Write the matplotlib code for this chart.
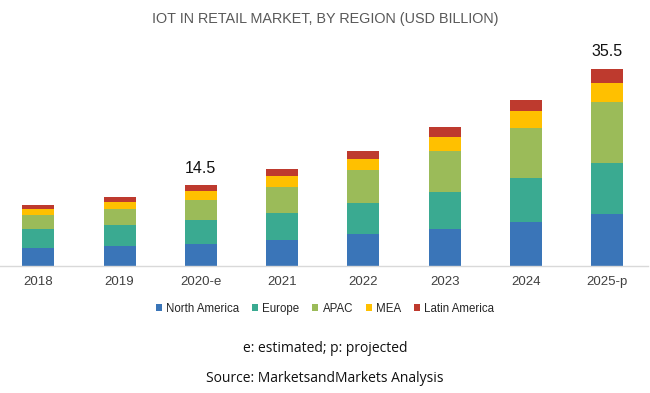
import matplotlib
matplotlib.use('Agg')
import matplotlib.pyplot as plt
import numpy as np

years = ['2018', '2019', '2020-e', '2021', '2022', '2023', '2024', '2025-p']
north_america = [3.30, 3.65, 4.00, 4.73, 5.76, 6.60, 7.86, 9.42]
europe = [3.35, 3.72, 4.30, 4.86, 5.57, 6.71, 7.97, 9.11]
apac = [2.58, 2.93, 3.60, 4.67, 5.94, 7.32, 8.99, 10.97]
mea = [1.02, 1.20, 1.55, 1.87, 1.92, 2.52, 3.06, 3.41]
latin_america = [0.78, 0.96, 1.05, 1.26, 1.57, 1.92, 2.05, 2.59]
total_labels = {'2020-e': '14.5', '2025-p': '35.5'}

series = [
    ('North America', north_america, '#3A75B8'),
    ('Europe', europe, '#3AAA91'),
    ('APAC', apac, '#9BBB59'),
    ('MEA', mea, '#FFC000'),
    ('Latin America', latin_america, '#BE3A2E'),
]

fig = plt.figure(figsize=(6.5, 3.93), dpi=100)
ax = fig.add_axes([0.0, 0.3232, 0.997, 0.5659])

x = np.arange(len(years))
bottom = np.zeros(len(years))
for name, vals, color in series:
    ax.bar(x, vals, width=0.394, bottom=bottom, color=color, label=name)
    bottom += np.array(vals)

for i, yr in enumerate(years):
    if yr in total_labels:
        ax.annotate(total_labels[yr], (x[i], bottom[i]), xytext=(0, 7),
                    textcoords='offset points', ha='center', va='bottom',
                    fontsize=11.5, color='#111111', family='Liberation Sans')

ax.set_xlim(-0.47, 7.5)
ax.set_ylim(0, 40)
ax.set_yticks([])
ax.set_xticks(x)
ax.set_xticklabels(years, fontsize=9.5, color='#404040', family='Liberation Sans')
ax.tick_params(axis='x', length=0, pad=7)
for s in ['top', 'right', 'left']:
    ax.spines[s].set_visible(False)
ax.spines['bottom'].set_color('#D9D9D9')
ax.spines['bottom'].set_linewidth(1.0)

fig.text(0.5, 0.951, 'IOT IN RETAIL MARKET, BY REGION (USD BILLION)',
         ha='center', va='center', fontsize=10.4, color='#595959',
         family='Liberation Sans')

leg = fig.legend(loc='center', bbox_to_anchor=(0.5, 0.214), ncol=5,
                 frameon=False, handlelength=0.55, handleheight=0.55,
                 handletextpad=0.35, columnspacing=1.1,
                 prop={'family': 'Liberation Sans', 'size': 8.3})
for t in leg.get_texts():
    t.set_color('#262626')

fig.text(0.5, 0.114, 'e: estimated; p: projected', ha='center', va='center',
         fontsize=10, color='#111111', family='Open Sans')
fig.text(0.5, 0.038, 'Source: MarketsandMarkets Analysis', ha='center', va='center',
         fontsize=10, color='#111111', family='Open Sans')

fig.savefig('out.png', dpi=100)
